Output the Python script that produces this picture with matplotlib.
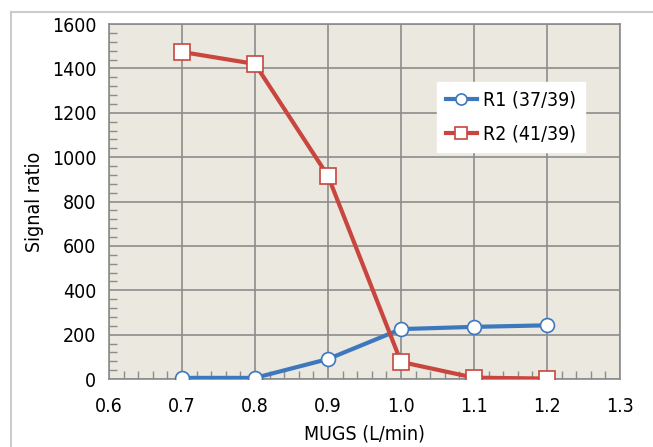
import matplotlib
matplotlib.use('Agg')
import matplotlib.pyplot as plt
from matplotlib.lines import Line2D
from matplotlib.ticker import MultipleLocator, FormatStrFormatter

mugs = [0.7, 0.8, 0.9, 1.0, 1.1, 1.2]
r1 = [5, 5, 90, 225, 235, 242]
r2 = [1474, 1420, 915, 77, 6, 2]
labels = ['R1 (37/39)', 'R2 (41/39)']

plt.rcParams['font.family'] = ['DejaVu Sans']
plt.rcParams['font.stretch'] = 'condensed'

fig = plt.figure(figsize=(6.53, 4.47), dpi=100)
ax = fig.add_axes([0.1669, 0.1521, 0.7826, 0.7942])
ax.set_facecolor('#ebe8df')

# outer frame
fig.add_artist(Line2D([11/653, 1.0], [1-12/447, 1-12/447], color='#cccccc', lw=1.5))
fig.add_artist(Line2D([11/653, 11/653], [0, 1-12/447], color='#cccccc', lw=1.5))

ax.plot(mugs, r1, '-o', color='#3d78bf', lw=3, ms=10, mfc='white', mec='#3d78bf', mew=1.2, label=labels[0], zorder=3)
ax.plot(mugs, r2, '-s', color='#c9463f', lw=3, ms=11, mfc='white', mec='#c9463f', mew=1.2, label=labels[1], zorder=3)

ax.set_xlim(0.6, 1.3)
ax.set_ylim(0, 1600)
ax.xaxis.set_major_locator(MultipleLocator(0.1))
ax.xaxis.set_minor_locator(MultipleLocator(0.02))
ax.yaxis.set_major_locator(MultipleLocator(200))
ax.yaxis.set_minor_locator(MultipleLocator(40))
ax.xaxis.set_major_formatter(FormatStrFormatter('%.1f'))
ax.grid(which='major', color='#8c8c8c', lw=1.2)
ax.set_axisbelow(True)
ax.tick_params(which='both', direction='in', color='#8c8c8c', labelsize=14)
ax.tick_params(which='major', length=0)
ax.tick_params(which='minor', length=6, width=1)
ax.tick_params(axis='x', pad=13)
ax.tick_params(axis='y', pad=9)
for s in ax.spines.values():
    s.set_color('#8c8c8c')
    s.set_linewidth(1.2)

ax.set_xlabel('MUGS (L/min)', fontsize=14, labelpad=6)
ax.set_ylabel('Signal ratio', fontsize=14, labelpad=6)

leg = ax.legend(loc='upper left', bbox_to_anchor=(0.642, 0.836), fontsize=14, frameon=True,
                fancybox=False, edgecolor='white', facecolor='white', framealpha=1,
                handlelength=1.6, borderpad=0.45, labelspacing=0.75, handletextpad=0.3,
                borderaxespad=0, markerscale=0.8)

fig.savefig('out.png', dpi=100)
